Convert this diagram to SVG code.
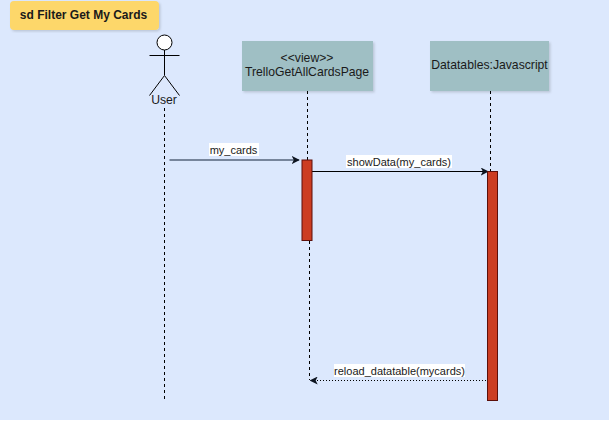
<svg xmlns="http://www.w3.org/2000/svg" width="611" height="424" viewBox="0 0 611 424">
<style>
text{font-family:"Liberation Sans",Arial,sans-serif;font-size:12.2px;fill:#1a1a1a;text-anchor:middle}
.box{fill:#9fbfc4;filter:url(#sh)}
.act{fill:#cc3d22;stroke:#5c0f0a;stroke-width:1}
.life{fill:none;stroke:#000;stroke-width:1;stroke-dasharray:3 3}
.lab{fill:#fff}
.actor{fill:none;stroke:#000;stroke-width:1}
.small{font-size:11px}
</style>
<defs>
<filter id="sh" x="-5%" y="-5%" width="110%" height="115%"><feDropShadow dx="1.500" dy="1.500" stdDeviation="1" flood-color="#000" flood-opacity=".15"/></filter>
<marker id="a" viewBox="0 0 10 10" refX="9" refY="5" markerWidth="8" markerHeight="8" markerUnits="userSpaceOnUse" orient="auto"><path d="M0 0L10 5L0 10L2.500 5Z" fill="#0d1420"/></marker>
</defs>
<rect width="611" height="424" fill="#fff"/>
<rect width="609" height="420" fill="#dce8fd"/>
<g id="title"><rect x="10" y="1" width="149" height="29" rx="4" fill="#fdd76a" filter="url(#sh)"/><text x="83.500" y="19" style="font-weight:bold;font-size:12px">sd Filter Get My Cards</text></g>
<g id="user">
<circle cx="164.500" cy="42.500" r="7.500" fill="#fff" stroke="#000"/>
<path class="actor" d="M164.500 50V75M149.500 55.500H179.500M164.500 75.500L149.500 95.500M164.500 75.500L179.500 95.500"/>
<text x="164" y="104">User</text>
</g>
<g id="page"><rect class="box" x="242" y="41" width="131" height="50"/><text x="307" y="62">&lt;&lt;view&gt;&gt;</text><text x="307" y="76">TrelloGetAllCardsPage</text></g>
<g id="datatables"><rect class="box" x="430" y="41" width="119" height="50"/><text x="489.500" y="69">Datatables:Javascript</text></g>
<g id="connectors">
<path class="life" d="M164.500 108V400"/>
<path class="life" d="M307.500 91V160"/>
<path class="life" d="M309.500 241V380"/>
<path class="life" d="M490.500 91V171"/>
<path d="M169.500 160H299" fill="none" stroke="#56657a" stroke-width="1.500" marker-end="url(#a)"/>
<rect class="lab" x="209" y="143" width="50" height="13"/><text class="small" x="233.500" y="153.500">my_cards</text>
<path d="M312 171.500H488" fill="none" stroke="#000" marker-end="url(#a)"/>
<rect class="lab" x="346" y="155" width="106" height="13"/><text class="small" x="399" y="165.500">showData(my_cards)</text>
<path d="M489 380.500H310.500" fill="none" stroke="#000" stroke-dasharray="1 2" marker-end="url(#a)"/>
<rect class="lab" x="334" y="364" width="131" height="13"/><text class="small" x="399.500" y="374.500">reload_datatable(mycards)</text>
</g>
<g id="activation-page"><rect class="act" x="302" y="160" width="10" height="80.500"/></g>
<g id="activation-datatables"><rect class="act" x="487.500" y="171.500" width="10" height="229"/></g>
</svg>
